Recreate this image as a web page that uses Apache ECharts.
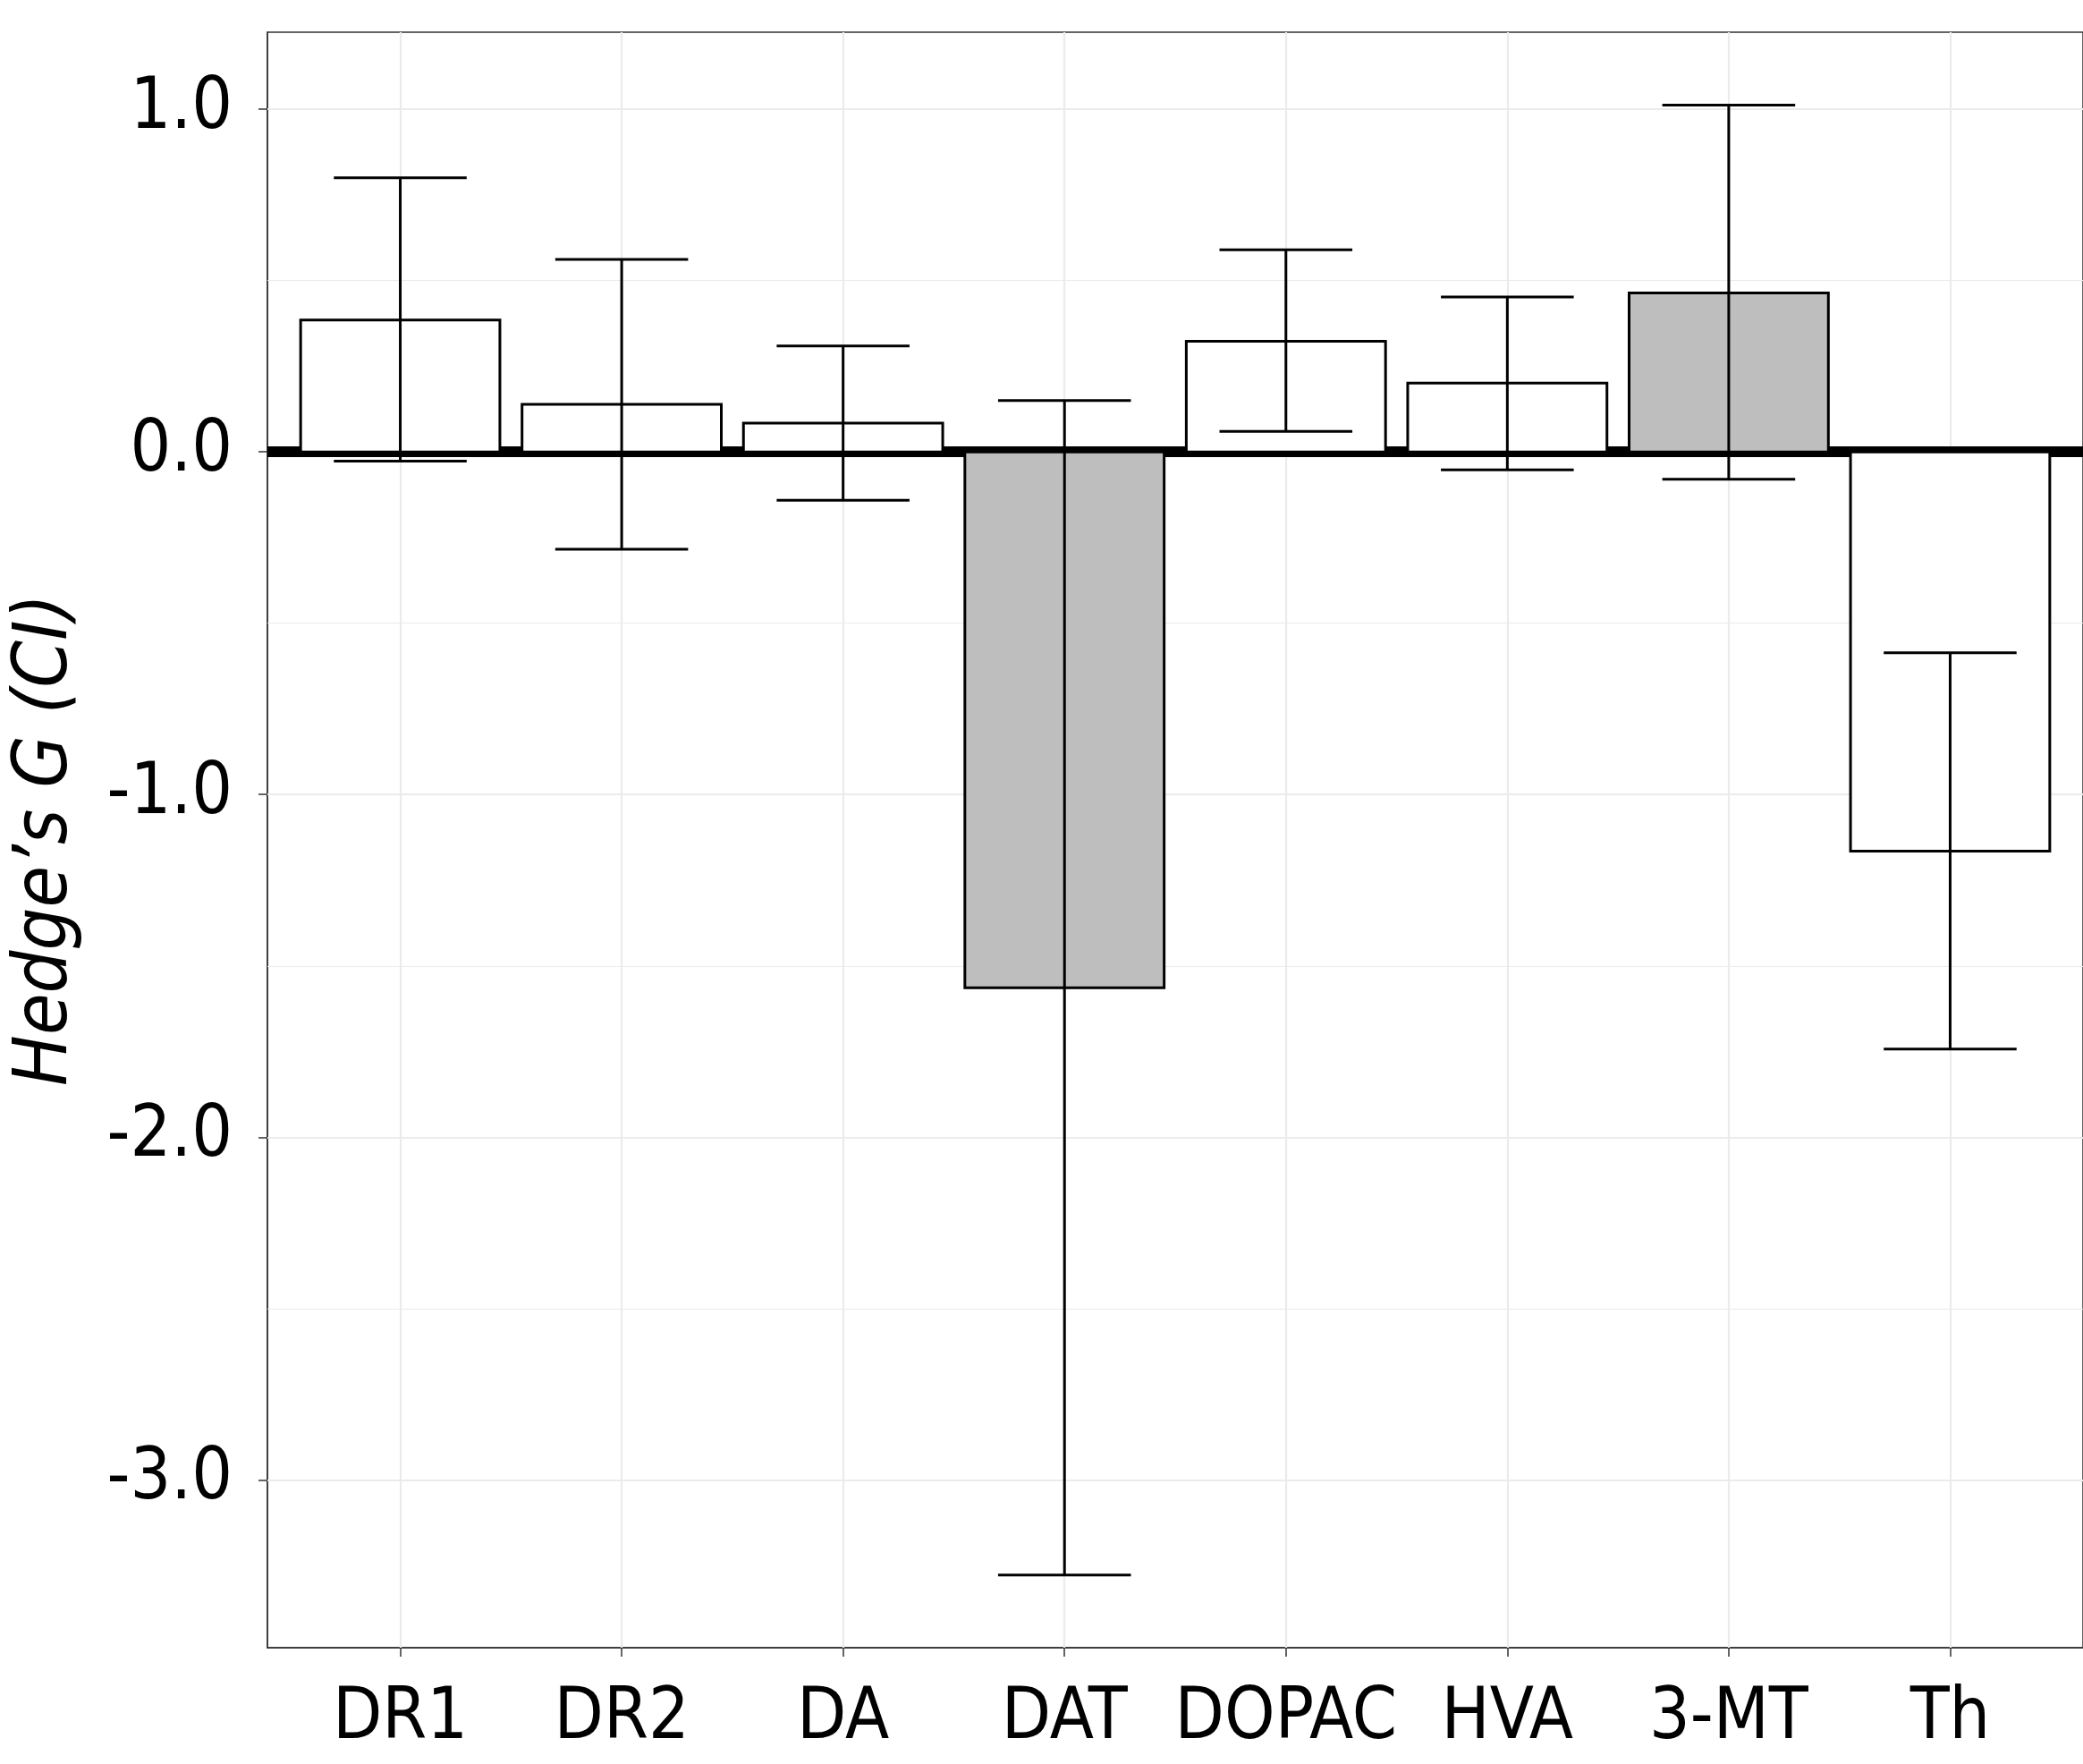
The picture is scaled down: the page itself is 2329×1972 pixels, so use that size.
<!DOCTYPE html>
<html><head><meta charset="utf-8">
<script src="https://cdn.jsdelivr.net/npm/echarts@6/dist/echarts.min.js"></script>
<style>html,body{margin:0;padding:0;background:#fff}#chart{width:2329px;height:1972px}</style>
</head><body><div id="chart"></div>
<script>
const categories = ['DR1', 'DR2', 'DA', 'DAT', 'DOPAC', 'HVA', '3-MT', 'Th'];
const effect  = [0.385, 0.139, 0.084, -1.564, 0.323, 0.201, 0.464, -1.165];
const ciLower = [-0.027, -0.284, -0.141, -3.278, 0.060, -0.052, -0.080, -1.743];
const ciUpper = [0.800, 0.562, 0.309, 0.150, 0.590, 0.452, 1.012, -0.586];
const shaded  = ['DAT', '3-MT'];
const yTicks = [-3, -2, -1, 0, 1];
const yMinorTicks = [-2.5, -1.5, -0.5, 0.5];
const yRange = [-3.49, 1.225];
const xRange = [-0.6, 7.6];

const FONT = "'Liberation Sans Narrow','Arial Narrow','DejaVu Sans Condensed',sans-serif";
const catIdx = categories.map((c, i) => i);

const chart = echarts.init(document.getElementById('chart'), null, {renderer: 'canvas'});
const option = {
  animation: false,
  backgroundColor: '#ffffff',
  grid: {left: 299, top: 36, width: 2036, height: 1806, show: true,
         borderColor: '#333333', borderWidth: 1.5, backgroundColor: 'transparent'},
  xAxis: {
    type: 'value', min: xRange[0], max: xRange[1],
    axisLine: {show: true, onZero: false, lineStyle: {color: '#333333', width: 1.5}},
    axisTick: {show: true, customValues: catIdx, length: 10, lineStyle: {color: '#333333', width: 1.5}},
    axisLabel: {customValues: catIdx, formatter: v => categories[Math.round(v)],
                fontSize: 80, color: '#000', margin: 40, fontFamily: FONT},
    splitLine: {show: false}
  },
  yAxis: {
    type: 'value', min: yRange[0], max: yRange[1],
    axisLine: {show: true, onZero: false, lineStyle: {color: '#333333', width: 1.5}},
    axisTick: {show: true, customValues: yTicks, length: 10, lineStyle: {color: '#333333', width: 1.5}},
    axisLabel: {customValues: yTicks, formatter: v => Number(v).toFixed(1),
                fontSize: 80, color: '#000', margin: 39, fontFamily: FONT,
                verticalAlign: 'middle', padding: [0, 0, 50, 0]},
    splitLine: {show: false},
    name: 'Hedge\u2019s G (CI)', nameLocation: 'middle', nameRotate: 90, nameGap: 205,
    nameTextStyle: {fontStyle: 'italic', fontSize: 84, color: '#000', fontFamily: FONT}
  },
  series: [
    {
      type: 'line', data: [[0, 0]], symbol: 'none', lineStyle: {opacity: 0}, z: 1, silent: true,
      markLine: {z: 1, silent: true, symbol: ['none', 'none'], label: {show: false},
        lineStyle: {color: '#EBEBEB', width: 1.2, type: 'solid'},
        data: yMinorTicks.map(v => ({yAxis: v}))}
    },
    {
      type: 'line', data: [[0, 0]], symbol: 'none', lineStyle: {opacity: 0}, z: 1, silent: true,
      markLine: {z: 1, silent: true, symbol: ['none', 'none'], label: {show: false},
        lineStyle: {color: '#EBEBEB', width: 2.2, type: 'solid'},
        data: catIdx.map(i => ({xAxis: i})).concat(yTicks.map(v => ({yAxis: v})))}
    },
    {
      type: 'line', data: [[0, 0]], symbol: 'none', lineStyle: {opacity: 0}, z: 2, silent: true,
      markLine: {z: 2, silent: true, symbol: ['none', 'none'], label: {show: false},
        lineStyle: {color: '#000000', width: 12, type: 'solid'},
        data: [{yAxis: 0}]}
    },
    {
      type: 'custom', z: 3, silent: true,
      data: categories.map((c, i) => [i, effect[i]]),
      renderItem: function (params, api) {
        const i = api.value(0), v = api.value(1);
        const a = api.coord([i - 0.45, v]);
        const b = api.coord([i + 0.45, 0]);
        const fill = shaded.indexOf(categories[params.dataIndex]) >= 0 ? '#BEBEBE' : '#FFFFFF';
        return {type: 'rect',
          shape: {x: a[0], y: Math.min(a[1], b[1]), width: b[0] - a[0], height: Math.abs(b[1] - a[1])},
          style: {fill: fill, stroke: '#000000', lineWidth: 3}};
      }
    },
    {
      type: 'custom', z: 4, silent: true,
      data: categories.map((c, i) => [i, ciLower[i], ciUpper[i]]),
      renderItem: function (params, api) {
        const i = api.value(0), lo = api.value(1), hi = api.value(2);
        const pLo = api.coord([i, lo]), pHi = api.coord([i, hi]);
        const l1 = api.coord([i - 0.3, lo]), r1 = api.coord([i + 0.3, lo]);
        const l2 = api.coord([i - 0.3, hi]), r2 = api.coord([i + 0.3, hi]);
        const st = {stroke: '#000000', lineWidth: 3};
        return {type: 'group', children: [
          {type: 'line', shape: {x1: pLo[0], y1: pLo[1], x2: pHi[0], y2: pHi[1]}, style: st},
          {type: 'line', shape: {x1: l1[0], y1: l1[1], x2: r1[0], y2: r1[1]}, style: st},
          {type: 'line', shape: {x1: l2[0], y1: l2[1], x2: r2[0], y2: r2[1]}, style: st}
        ]};
      }
    }
  ]
};
chart.setOption(option);
</script></body></html>
